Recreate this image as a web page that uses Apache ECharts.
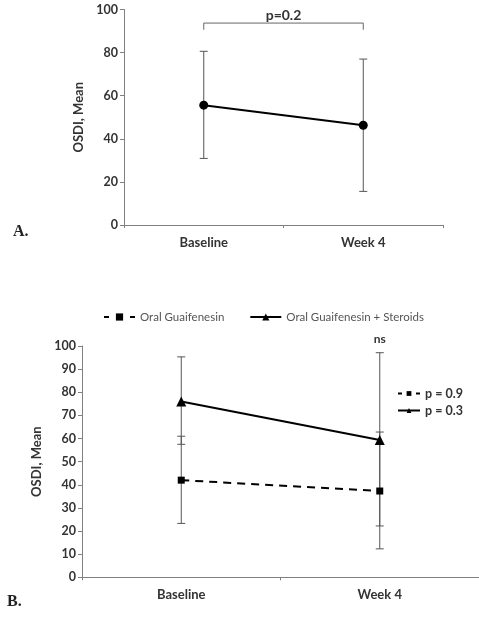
<!DOCTYPE html>
<html>
<head>
<meta charset="utf-8">
<script src="https://cdn.jsdelivr.net/npm/echarts@6/dist/echarts.min.js"></script>
<style>
html,body{margin:0;padding:0;background:#fff;}
#c{width:479px;height:617px;}
</style>
</head>
<body>
<div id="c"></div>
<script>
// ---- data ----
var categories = ['Baseline', 'Week 4'];
// Panel A
var meanA = [55.6, 46.3];
var upperA = [80.6, 77.0];
var lowerA = [30.9, 15.6];
var pLabelA = 'p=0.2';
var bracketA = [93.7, 90.6]; // bracket height, end drop
// Panel B
var seriesNamesB = ['Oral Guaifenesin', 'Oral Guaifenesin + Steroids'];
var meanGuai = [42.0, 37.3];
var upperGuai = [61.0, 62.8];
var lowerGuai = [23.3, 12.3];
var meanSter = [76.0, 59.4];
var upperSter = [95.3, 97.1];
var lowerSter = [57.5, 22.2];
var pValuesB = ['p = 0.9', 'p = 0.3'];
var nsLabel = ['ns', 103];
var yTicksA = [0, 100, 20];
var yTicksB = [0, 100, 10];

var FONT = 'Lato';
var TXT = '#333';
var AX = '#808080';

function errData(lo, hi) {
  return categories.map(function (c, i) { return [i, lo[i], hi[i]]; });
}
function errRender(params, api) {
  var x = api.value(0);
  var a = api.coord([x, api.value(1)]);
  var b = api.coord([x, api.value(2)]);
  var hw = 4;
  var st = { stroke: '#555', lineWidth: 1 };
  return { type: 'group', children: [
    { type: 'line', shape: { x1: a[0], y1: a[1], x2: b[0], y2: b[1] }, style: st },
    { type: 'line', shape: { x1: a[0] - hw, y1: a[1], x2: a[0] + hw, y2: a[1] }, style: st },
    { type: 'line', shape: { x1: b[0] - hw, y1: b[1], x2: b[0] + hw, y2: b[1] }, style: st }
  ]};
}
function bracketRender(params, api) {
  var l = api.coord([0, bracketA[0]]);
  var r = api.coord([1, bracketA[0]]);
  var lb = api.coord([0, bracketA[1]]);
  var st = { stroke: '#666', lineWidth: 1, fill: null };
  return { type: 'group', children: [
    { type: 'polyline', shape: { points: [[l[0], lb[1]], [l[0], l[1]], [r[0], r[1]], [r[0], lb[1]]] }, style: st },
    { type: 'text', x: (l[0] + r[0]) / 2, y: l[1] - 8, style: { text: pLabelA, fill: TXT, font: 'bold 14px ' + FONT, align: 'center', verticalAlign: 'middle' } }
  ]};
}
function nsRender(params, api) {
  var p = api.coord([api.value(0), api.value(1)]);
  return { type: 'text', x: p[0], y: p[1], style: { text: 'ns', fill: TXT, font: 'bold 12px ' + FONT, align: 'center', verticalAlign: 'middle' } };
}

function yAxis(idx, t) {
  return {
    type: 'value', gridIndex: idx, min: t[0], max: t[1], interval: t[2],
    name: 'OSDI, Mean', nameLocation: 'middle', nameGap: idx === 0 ? 29 : 31,
    nameTextStyle: { fontFamily: FONT, fontWeight: 'bold', fontSize: 13, color: TXT },
    axisLine: { show: true, lineStyle: { color: AX, width: 1 } },
    axisTick: { show: true, length: 4, lineStyle: { color: AX } },
    axisLabel: { fontFamily: FONT, fontWeight: 'bold', fontSize: 12.5, color: TXT, margin: 6 },
    splitLine: { show: false }
  };
}
function xAxis(idx) {
  return {
    type: 'category', gridIndex: idx, data: categories, boundaryGap: true,
    axisLine: { lineStyle: { color: AX, width: 1 } },
    axisTick: { show: true, length: 3, lineStyle: { color: AX } },
    axisLabel: { fontFamily: FONT, fontWeight: 'bold', fontSize: 13, color: TXT, margin: 11 }
  };
}

var chart = echarts.init(document.getElementById('c'), null, { renderer: 'canvas' });
chart.setOption({
  animation: false,
  backgroundColor: '#fff',
  grid: [
    { left: 124, top: 9.5, width: 319, height: 215.5 },
    { left: 82, top: 346, width: 408, height: 231.3 }
  ],
  xAxis: [xAxis(0), xAxis(1)],
  yAxis: [yAxis(0, yTicksA), yAxis(1, yTicksB)],
  legend: [
    {
      data: [
        { name: seriesNamesB[0], lineStyle: { type: [5, 8] } },
        { name: seriesNamesB[1] }
      ],
      left: 103, top: 311, padding: 0, itemWidth: 31, itemHeight: 9, itemGap: 25,
      textStyle: { fontFamily: FONT, fontSize: 11.5, color: '#555' }
    },
    {
      data: [
        { name: seriesNamesB[0], lineStyle: { type: [4, 5] } },
        { name: seriesNamesB[1] }
      ],
      orient: 'vertical', left: 397, top: 387, padding: 0, itemWidth: 22, itemHeight: 6, itemGap: 4,
      formatter: function (n) { return pValuesB[seriesNamesB.indexOf(n)]; },
      textStyle: { fontFamily: FONT, fontSize: 12.5, fontWeight: 'bold', color: TXT }
    }
  ],
  graphic: [
    { type: 'text', left: 13, top: 224, style: { text: 'A.', font: 'bold 16px "Liberation Serif"', fill: '#222' } },
    { type: 'text', left: 7, top: 594, style: { text: 'B.', font: 'bold 16px "Liberation Serif"', fill: '#222' } }
  ],
  series: [
    { type: 'custom', xAxisIndex: 0, yAxisIndex: 0, renderItem: errRender, data: errData(lowerA, upperA), z: 1, silent: true },
    { type: 'custom', xAxisIndex: 0, yAxisIndex: 0, renderItem: bracketRender, data: [[0, bracketA[0]]], z: 1, silent: true },
    { type: 'line', xAxisIndex: 0, yAxisIndex: 0, data: meanA, symbol: 'circle', symbolSize: 9,
      lineStyle: { color: '#000', width: 2 }, itemStyle: { color: '#000' }, z: 3 },

    { type: 'custom', xAxisIndex: 1, yAxisIndex: 1, renderItem: errRender, data: errData(lowerGuai, upperGuai), z: 1, silent: true },
    { type: 'custom', xAxisIndex: 1, yAxisIndex: 1, renderItem: errRender, data: errData(lowerSter, upperSter), z: 1, silent: true },
    { type: 'custom', xAxisIndex: 1, yAxisIndex: 1, renderItem: nsRender, data: [[1, nsLabel[1]]], z: 1, silent: true },
    { name: seriesNamesB[0], type: 'line', xAxisIndex: 1, yAxisIndex: 1, data: meanGuai, symbol: 'rect', symbolSize: 7,
      lineStyle: { color: '#000', width: 2, type: [8, 6] }, itemStyle: { color: '#000' }, z: 3 },
    { name: seriesNamesB[1], type: 'line', xAxisIndex: 1, yAxisIndex: 1, data: meanSter, symbol: 'triangle', symbolSize: 10,
      lineStyle: { color: '#000', width: 2 }, itemStyle: { color: '#000' }, z: 3 }
  ]
});
</script>
</body>
</html>
